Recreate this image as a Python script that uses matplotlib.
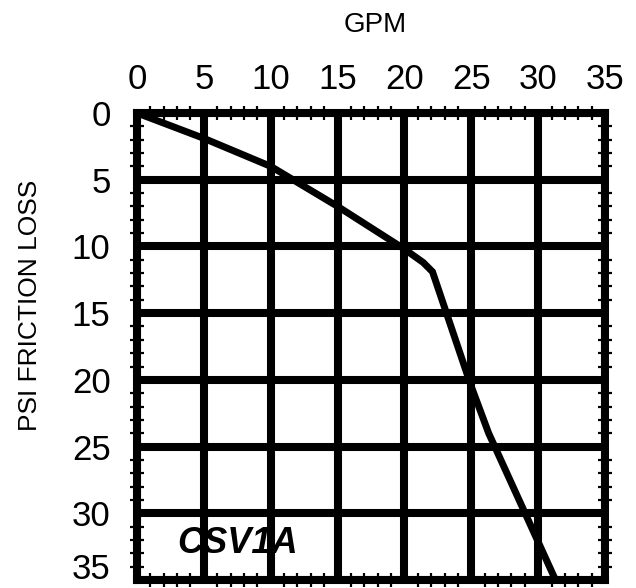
import matplotlib
matplotlib.use('Agg')
import matplotlib.pyplot as plt
from matplotlib.ticker import MultipleLocator
from matplotlib.transforms import ScaledTranslation

# curve
gpm = [0, 5, 10, 15, 20, 21.4, 22.1, 25, 26.3, 31.3]
psi_loss = [0, 1.9, 4.0, 7.0, 10.2, 11.2, 11.9, 20.5, 24.0, 35.0]
major_ticks = [0, 5, 10, 15, 20, 25, 30, 35]
label = 'CSV1A'

plt.rcParams['font.family'] = ['Liberation Sans', 'DejaVu Sans']

fig = plt.figure(figsize=(6.36, 5.88), dpi=100)
ax = fig.add_axes([137 / 636, 1 - 580 / 588, 468 / 636, 467 / 588])

ax.set_xlim(0, 35)
ax.set_ylim(35, 0)

ax.set_xticks(major_ticks)
ax.set_yticks(major_ticks)
ax.xaxis.set_minor_locator(MultipleLocator(1))
ax.yaxis.set_minor_locator(MultipleLocator(1))

ax.grid(True, which='major', color='black', linewidth=5.8)
ax.set_axisbelow(True)

ax.plot(gpm, psi_loss, color='black', linewidth=5, solid_joinstyle='miter',
        clip_on=True, zorder=3)

for spine in ax.spines.values():
    spine.set_linewidth(5.8)
    spine.set_zorder(4)

ax.tick_params(which='both', top=True, bottom=True, left=True, right=True,
               labeltop=True, labelbottom=False, labelleft=True,
               labelright=False, direction='inout')
ax.tick_params(which='major', length=0, labelsize=25)
ax.tick_params(axis='x', which='major', pad=12)
ax.tick_params(axis='y', which='major', pad=19)
ax.tick_params(which='minor', length=10, width=1.6)

# the last y label sits a little above its tick so it stays on the canvas
last = ax.get_yticklabels()[-1]
last.set_transform(last.get_transform() +
                   ScaledTranslation(0, 14 / 100, fig.dpi_scale_trans))

ax.text(7.5, 32.3, label, ha='center', va='center', fontsize=26,
        fontweight='bold', fontstyle='italic', zorder=5)

fig.text(375 / 636, 1 - 25 / 588, 'GPM', ha='center', va='center', fontsize=20)
fig.text(30 / 636, 1 - 305 / 588, 'PSI FRICTION LOSS', ha='center', va='center',
         rotation=90, fontsize=19)

fig.savefig('out.png', dpi=100)
